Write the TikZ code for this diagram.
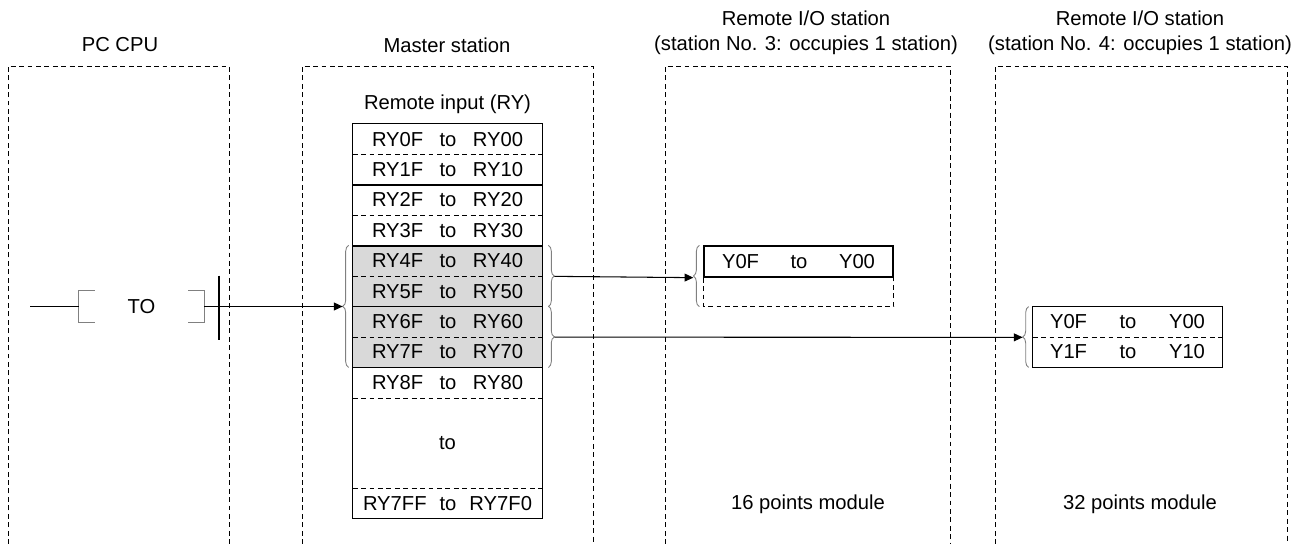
\documentclass[tikz,border=0pt]{standalone}
\usepackage{fontspec}
\setmainfont{Liberation Sans}
\usetikzlibrary{arrows.meta,positioning,calc,decorations.pathreplacing}
\definecolor{cellGray}{RGB}{217,217,217}
\definecolor{braceGray}{RGB}{128,128,128}
\newcommand{\rangetext}[3]{\makebox[#3]{#1\hfill to\hfill #2}}

\begin{document}
\begin{tikzpicture}[x=0.02cm, y=-0.02cm,
    every node/.style={font=\fontsize{11.5}{14.2}\selectfont, inner sep=0pt},
    stationbox/.style={dash pattern=on 2.8pt off 2pt, line width=0.5pt},
    rycell/.style={minimum width=3.78cm, minimum height=0.608cm},
    shaded/.style={rycell, fill=cellGray},
    modcell/.style={minimum width=3.78cm, minimum height=0.6cm},
    grpbrace/.style={braceGray, line width=0.5pt, decorate, decoration={brace, amplitude=3.4pt}},
    sig/.style={line width=0.6pt, -{Triangle[length=5pt, width=4.5pt]}}]
    \useasboundingbox (0,0) rectangle (1295,544);
    % Headers
    \node (hcpu) at (120,45) {PC CPU};
    \node (hmaster) at (447,45) {Master station};
    \node[align=center] (hst3) at (806,33) {Remote I/O station\\(station No. 3: occupies 1 station)};
    \node[align=center] (hst4) at (1140,33) {Remote I/O station\\(station No. 4: occupies 1 station)};
    % Station frames
    \draw[stationbox] (8,544) |- (229,66) -- (229,544);
    \draw[stationbox] (302,544) |- (593,66) -- (593,544);
    \draw[stationbox] (665,544) |- (950,66) -- (950,544);
    \draw[stationbox] (995,544) |- (1287,66) -- (1287,544);
    % Remote input table
    \node (rytitle) at (447.5,104) {Remote input (RY)};
    \node[rycell] (r0) at (447.5,139.2) {\rangetext{RY0F}{RY00}{3.02cm}};
    \node[rycell] (r1) at (447.5,169.6) {\rangetext{RY1F}{RY10}{3.02cm}};
    \node[rycell] (r2) at (447.5,200.0) {\rangetext{RY2F}{RY20}{3.02cm}};
    \node[rycell] (r3) at (447.5,230.4) {\rangetext{RY3F}{RY30}{3.02cm}};
    \node[shaded] (r4) at (447.5,260.8) {\rangetext{RY4F}{RY40}{3.02cm}};
    \node[shaded] (r5) at (447.5,291.2) {\rangetext{RY5F}{RY50}{3.02cm}};
    \node[shaded] (r6) at (447.5,321.6) {\rangetext{RY6F}{RY60}{3.02cm}};
    \node[shaded] (r7) at (447.5,352.0) {\rangetext{RY7F}{RY70}{3.02cm}};
    \node[rycell] (r8) at (447.5,382.4) {\rangetext{RY8F}{RY80}{3.02cm}};
    \node[rycell, minimum height=1.808cm] (rmid) at (447.5,442.8) {to};
    \node[rycell] (rlast) at (447.5,503.2) {\rangetext{RY7FF}{RY7F0}{3.38cm}};
    \draw[line width=0.75pt] (r0.north west) rectangle (rlast.south east);
    \draw[line width=0.75pt] (r1.south west) -- (r1.south east);
    \draw[line width=0.75pt] (r3.south west) -- (r3.south east);
    \draw[line width=0.75pt] (r5.south west) -- (r5.south east);
    \draw[line width=0.75pt] (r7.south west) -- (r7.south east);
    \draw[stationbox] (r0.south west) -- (r0.south east);
    \draw[stationbox] (r2.south west) -- (r2.south east);
    \draw[stationbox] (r4.south west) -- (r4.south east);
    \draw[stationbox] (r6.south west) -- (r6.south east);
    \draw[stationbox] (r8.south west) -- (r8.south east);
    \draw[stationbox] (rmid.south west) -- (rmid.south east);
    % Braces round the shaded rows
    \draw[grpbrace] ($(r7.south west)+(-4,0)$) -- ($(r4.north west)+(-4,0)$);
    \draw[grpbrace] ($(r4.north east)+(6,0)$) -- ($(r5.south east)+(6,0)$);
    \draw[grpbrace] ($(r6.north east)+(6,0)$) -- ($(r7.south east)+(6,0)$);
    \coordinate (inpin) at ($(r5.south west)+(-10,0)$);
    \coordinate (outA) at ($(r4.south east)+(12,0)$);
    \coordinate (outB) at ($(r6.south east)+(12,0)$);
    % Station No. 3 module
    \node[modcell, minimum height=0.62cm, draw, line width=0.75pt] (m3a) at (798.5,261.5) {\rangetext{Y0F}{Y00}{3.06cm}};
    \draw[stationbox] (m3a.south west) -- ++(0,29) -| (m3a.south east);
    \draw[grpbrace] ($(m3a.south west)+(-4,29)$) -- ($(m3a.north west)+(-4,0)$);
    \coordinate (inA) at ($(m3a.south west)+(-10,0)$);
    \node (lab3) at (808,504) {16 points module};
    % Station No. 4 module
    \node[modcell] (m4a) at (1127.5,322) {\rangetext{Y0F}{Y00}{3.1cm}};
    \node[modcell] (m4b) at (1127.5,352) {\rangetext{Y1F}{Y10}{3.1cm}};
    \draw[line width=0.75pt] (m4a.north west) rectangle (m4b.south east);
    \draw[stationbox] (m4a.south west) -- (m4a.south east);
    \draw[grpbrace] ($(m4b.south west)+(-4,0)$) -- ($(m4a.north west)+(-4,0)$);
    \coordinate (inB) at ($(m4a.south west)+(-10,0)$);
    \node (lab4) at (1140,504) {32 points module};
    % Ladder: TO instruction
    \node[minimum width=2.5cm, minimum height=0.62cm] (instr) at (141.5,306.5) {TO};
    \draw[braceGray, line width=0.6pt] ($(instr.north west)+(16,0)$) -- (instr.north west) -- (instr.south west) -- ++(16,0);
    \draw[braceGray, line width=0.6pt] ($(instr.north east)+(-16,0)$) -- (instr.north east) -- (instr.south east) -- ++(-16,0);
    \coordinate (rail) at (30,306.5);
    \coordinate (contact) at (219,306.5);
    \draw[line width=0.6pt] (rail) -- (instr.west);
    \draw[line width=0.8pt] ($(contact)+(0,-31)$) -- ($(contact)+(0,33)$);
    \draw[sig] (instr.east) -- (inpin |- instr.east);
    % Transfers
    \draw[sig] (outA) -- (inA);
    \draw[sig] (outB) -- (inB);
\end{tikzpicture}
\end{document}
